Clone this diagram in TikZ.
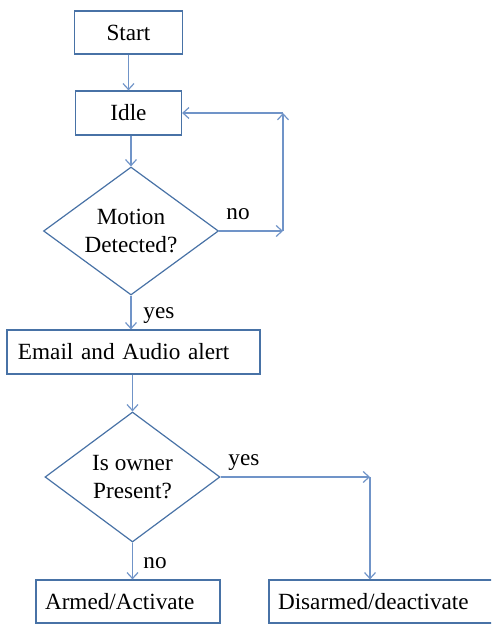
\documentclass[tikz,border=0pt]{standalone}
\usepackage{fontspec}
\setmainfont{Liberation Serif}
\usepackage{tikz}
\usetikzlibrary{positioning,shapes.geometric,arrows.meta}
\definecolor{boxblue}{RGB}{72,114,166}
\definecolor{lineblue}{RGB}{112,148,200}
\tikzstyle{box}=[draw=boxblue, line width=0.6pt, rectangle, inner sep=0pt, font=\fontsize{11.6}{13.6}\selectfont]
\tikzstyle{decision}=[draw=boxblue, line width=0.6pt, diamond, aspect=1.37, inner sep=0pt, align=center, font=\fontsize{11.6}{13.6}\selectfont]
\tikzstyle{arr}=[-{Straight Barb[length=3pt,width=5.5pt]}, lineblue, line width=0.6pt]
\tikzstyle{lbl}=[inner sep=0pt, anchor=base west, font=\fontsize{11.6}{13.6}\selectfont]

\begin{document}
\begin{tikzpicture}[x=0.5pt, y=-0.5pt]
        \useasboundingbox (0,0) rectangle (491,624);
        \clip (0,0) rectangle (491,624);

        \node[box, minimum width=54pt, minimum height=21.5pt] (start) at (128.5,32.5) {Start};
        \node[box, minimum width=53pt, minimum height=22pt] (idle) at (128.5,113) {Idle};
        \node[decision, minimum width=87.5pt, minimum height=64pt] (motion) at (131,231) {Motion\\Detected?};
        \node[box, minimum height=22pt, text width=115.5pt, inner xsep=5.5pt, align=left] (alert) at (133.5,352) {Email and Audio alert};
        \node[decision, minimum width=87.5pt, minimum height=65pt] (owner) at (132.5,477) {Is owner\\Present?};
        \node[box, minimum height=21.5pt, text width=83pt, inner xsep=4.5pt, align=left] (armed) at (128,601.5) {Armed/Activate};
        \node[box, minimum height=21.5pt, text width=106.5pt, inner xsep=4.5pt, align=left] (disarmed) at (384.5,601.5) {Disarmed/deactivate};

        \coordinate (c1) at (283,231);
        \coordinate (c2) at (283,113);
        \coordinate (c3) at (370,477);

        \draw[arr] (start) -- (idle);
        \draw[arr] (idle.south -| motion.north) -- (motion.north);
        \draw[arr] (motion.east) -- (c1);
        \draw[arr] (c1) -- (c2);
        \draw[arr] (c2) -- (idle.east);
        \draw[arr] (motion.south) -- (motion.south |- alert.north);
        \draw[arr] (owner.north |- alert.south) -- (owner.north);
        \draw[arr] (owner.east) -- (c3);
        \draw[arr] (c3) -- (c3 |- disarmed.north);
        \draw[arr] (owner.south) -- (owner.south |- armed.north);

        \node[lbl] (no1) at (226,220) {no};
        \node[lbl] (yes1) at (143,318) {yes};
        \node[lbl] (yes2) at (228,465) {yes};
        \node[lbl] (no2) at (143,568) {no};
    \end{tikzpicture}
\end{document}
